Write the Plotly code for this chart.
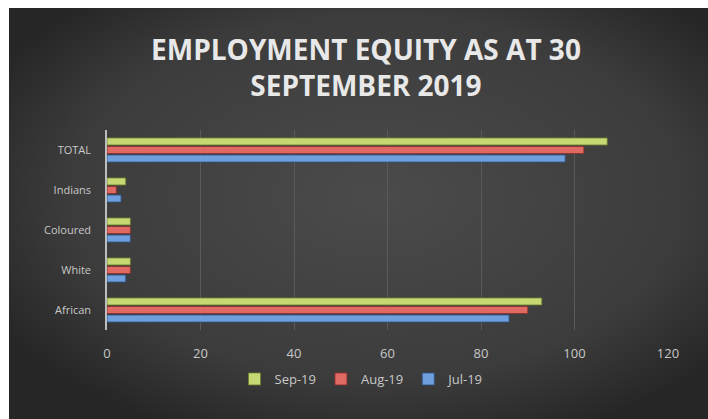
import base64
import plotly.graph_objects as go

categories = ["African", "White", "Coloured", "Indians", "TOTAL"]
series_names = ["Jul-19", "Aug-19", "Sep-19"]
jul_19 = [86, 4, 5, 3, 98]
aug_19 = [90, 5, 5, 2, 102]
sep_19 = [93, 5, 5, 4, 107]
x_ticks = [0, 20, 40, 60, 80, 100, 120]

colors = {"Jul-19": "#6f9fdc", "Aug-19": "#df6a64", "Sep-19": "#c4d873"}
edge = {"Jul-19": "#2f5487", "Aug-19": "#8c2d2a", "Sep-19": "#6f7f2e"}

W, H = 708, 419
L, R, T, B = 107, 40, 130, 89
pw, ph = W - L - R, H - T - B

svg = f'''<svg xmlns="http://www.w3.org/2000/svg" width="{W}" height="{H}" viewBox="0 0 {W} {H}" preserveAspectRatio="none">
<defs><radialGradient id="g" cx="52%" cy="45%" r="62%">
<stop offset="0%" stop-color="#4b4b4b"/><stop offset="70%" stop-color="#3c3c3c"/><stop offset="100%" stop-color="#262626"/>
</radialGradient></defs>
<rect x="0" y="0" width="{W}" height="{H}" fill="#ffffff"/>
<rect x="9" y="8" width="{W}" height="{H}" fill="url(#g)"/></svg>'''
uri = "data:image/svg+xml;base64," + base64.b64encode(svg.encode()).decode()

def px2x(px):
    return (px - L) / pw

def py2y(py):
    return (H - B - py) / ph

fig = go.Figure()
for name, vals in zip(series_names, [jul_19, aug_19, sep_19]):
    fig.add_trace(go.Bar(
        y=categories, x=vals, name=name, orientation="h",
        marker=dict(color=colors[name], line=dict(color=edge[name], width=0.8)),
    ))

fig.add_layout_image(dict(
    source=uri, xref="paper", yref="paper",
    x=px2x(0), y=py2y(0), sizex=px2x(W) - px2x(0), sizey=py2y(0) - py2y(H),
    xanchor="left", yanchor="top", sizing="stretch", layer="below",
))

fig.update_layout(
    width=W, height=H,
    margin=dict(l=L, r=R, t=T, b=B),
    paper_bgcolor="#2a2a2a",
    plot_bgcolor="rgba(0,0,0,0)",
    barmode="group",
    bargap=0.36,
    bargroupgap=0.18,
    title=dict(
        text="<b>EMPLOYMENT EQUITY AS AT 30<br>SEPTEMBER 2019</b>",
        x=366 / W, xanchor="center", y=1 - 60 / H, yanchor="middle",
        font=dict(family="Open Sans", size=28, color="#e8e8e8"),
    ),
    xaxis=dict(
        range=[0, 120], tickvals=x_ticks, showgrid=True,
        gridcolor="#5a5a5a", gridwidth=1, zeroline=False,
        tickfont=dict(family="Open Sans", size=13, color="#c8c8c8"),
        ticks="", ticklabelstandoff=14,
    ),
    yaxis=dict(
        showgrid=False, showline=True, linecolor="#bdbdbd", linewidth=1.5,
        tickfont=dict(family="Open Sans", size=11, color="#c8c8c8"),
        ticks="", ticklabelstandoff=12,
    ),
    legend=dict(
        orientation="h", traceorder="reversed",
        x=px2x(362), xanchor="center", xref="paper",
        y=py2y(379), yanchor="middle", yref="paper",
        font=dict(family="Open Sans", size=13, color="#c8c8c8"),
        bgcolor="rgba(0,0,0,0)", itemwidth=30,
    ),
)

fig.write_html("out.html")
